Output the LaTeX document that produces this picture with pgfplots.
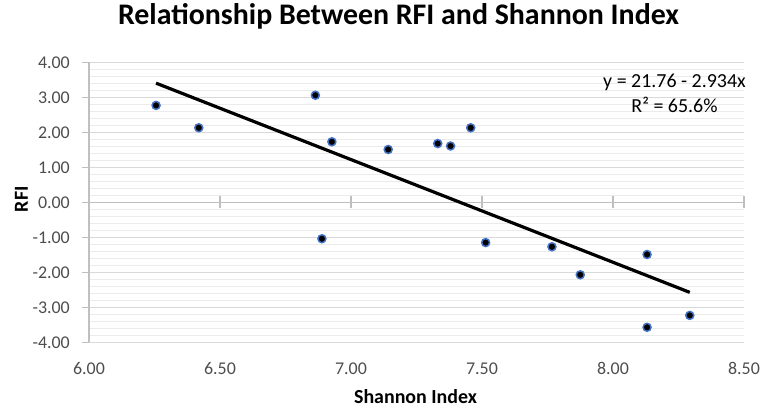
\documentclass[border=0pt]{standalone}
\usepackage{pgfplots}
\pgfplotsset{compat=1.18}
\usepackage{fontspec}
\setmainfont{Carlito}
\definecolor{tickgray}{HTML}{4D4D4D}
\definecolor{axgray}{HTML}{BFBFBF}
\definecolor{gridmaj}{HTML}{D9D9D9}
\definecolor{gridmin}{HTML}{EBEBEB}
\definecolor{mblue}{HTML}{4472C4}
\begin{document}
\begin{tikzpicture}
\path (-89bp,-67bp) rectangle (676bp,341.7bp);
\begin{axis}[
  scale only axis,
  width=655bp, height=280bp,
  xmin=6, xmax=8.5, ymin=-4, ymax=4,
  axis x line*=bottom, axis y line*=left,
  x axis line style={draw=none},
  y axis line style={draw=axgray, line width=1.2bp},
  xtick={6,6.5,...,8.5},
  ytick={-4,-3,...,4},
  xticklabels={6.00,6.50,7.00,7.50,8.00,8.50},
  yticklabels={-4.00,-3.00,-2.00,-1.00,0.00,1.00,2.00,3.00,4.00},
  x tick style={draw=none},
  y tick style={draw=axgray, line width=1.2bp},
  tick align=outside,
  major tick length=7bp,
  minor y tick num=4,
  minor tick length=0pt,
  ymajorgrids, yminorgrids,
  major grid style={draw=gridmaj, line width=0.8bp},
  minor grid style={draw=gridmin, line width=0.8bp},
  tick label style={font=\fontsize{18}{20}\selectfont, text=tickgray},
  /pgf/number format/assume math mode=true,
  yticklabel style={inner sep=0pt, xshift=-12bp},
  xticklabel style={inner sep=0pt, yshift=-13bp},
  clip=false,
]
\draw[axgray, line width=1.2bp] (axis cs:6,0) -- (axis cs:8.5,0);
\draw[axgray, line width=1.2bp] ([yshift=-6bp]axis cs:6.5,0) -- ([yshift=6bp]axis cs:6.5,0);
\draw[axgray, line width=1.2bp] ([yshift=-6bp]axis cs:7,0) -- ([yshift=6bp]axis cs:7,0);
\draw[axgray, line width=1.2bp] ([yshift=-6bp]axis cs:7.5,0) -- ([yshift=6bp]axis cs:7.5,0);
\draw[axgray, line width=1.2bp] ([yshift=-6bp]axis cs:8,0) -- ([yshift=6bp]axis cs:8,0);
\draw[axgray, line width=1.2bp] ([yshift=-6bp]axis cs:8.5,0) -- ([yshift=6bp]axis cs:8.5,0);
\addplot[black, line width=3.2bp, no marks] coordinates {(6.256,3.405) (8.293,-2.572)};
\addplot[only marks, mark=*, mark size=4bp, mark options={fill=black, draw=mblue, line width=1.5bp}] coordinates {
(6.256,2.77) (6.419,2.13) (6.864,3.06) (6.927,1.73) (7.142,1.51) (7.331,1.68)
(6.889,-1.04) (7.380,1.61) (7.457,2.13) (7.514,-1.15) (7.767,-1.27) (7.875,-2.07)
(8.13,-1.49) (8.13,-3.57) (8.293,-3.23)
};
\end{axis}
\node[anchor=base, font=\fontsize{30}{36}\selectfont\bfseries] at (309.5bp,318bp) {Relationship Between RFI and Shannon Index};
\node[anchor=base, font=\fontsize{20}{24}\selectfont\bfseries] at (326.5bp,-60.7bp) {Shannon Index};
\node[anchor=base, rotate=90, font=\fontsize{20}{24}\selectfont\bfseries] at (-61bp,143bp) {RFI};
\node[anchor=base, font=\fontsize{20}{24}\selectfont] at (585.5bp,254.7bp) {y = 21.76 - 2.934x};
\node[anchor=base, font=\fontsize{20}{24}\selectfont] at (585.5bp,230.3bp) {R² = 65.6\%};
\end{tikzpicture}
\end{document}
